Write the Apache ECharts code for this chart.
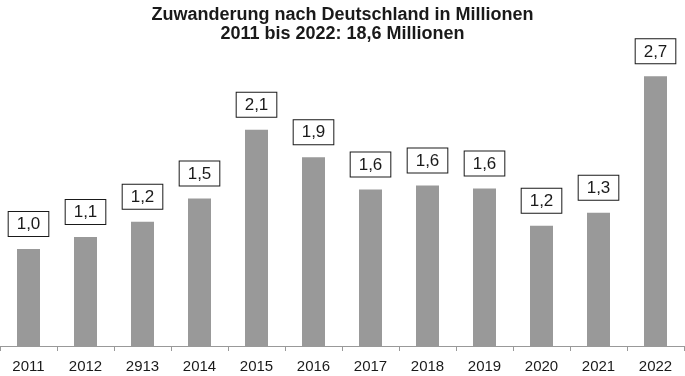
<!DOCTYPE html>
<html lang="de">
<head>
  <meta charset="UTF-8">
  <title>Zuwanderung nach Deutschland</title>
  <script src="https://cdn.jsdelivr.net/npm/echarts@6/dist/echarts.min.js"></script>
</head>
<body style="margin:0">
  <div id="app" style="width: 685px; height: 376px;"></div>
  <script>
    var years = ['2011', '2012', '2913', '2014', '2015', '2016', '2017', '2018', '2019', '2020', '2021', '2022']
    var values = [0.96, 1.08, 1.23, 1.46, 2.14, 1.87, 1.55, 1.59, 1.56, 1.19, 1.32, 2.67]

    var mCharts = echarts.init(document.querySelector('#app'))
    var option = {
      animation: false,
      title: {
        text: 'Zuwanderung nach Deutschland in Millionen\n2011 bis 2022: 18,6 Millionen',
        left: 'center',
        top: 1,
        textStyle: {
          fontFamily: 'Liberation Sans',
          fontSize: 18,
          fontWeight: 'bold',
          color: '#1a1a1a',
          lineHeight: 19
        }
      },
      grid: { left: 0, right: 1, top: 43, bottom: 30 },
      xAxis: {
        type: 'category',
        data: years,
        axisLine: { lineStyle: { color: '#999', width: 1 } },
        axisTick: { show: true, length: 5, lineStyle: { color: '#999' } },
        axisLabel: {
          fontFamily: 'Liberation Sans',
          fontSize: 15,
          color: '#1a1a1a',
          margin: 13
        }
      },
      yAxis: {
        type: 'value',
        min: 0,
        max: 3,
        show: false,
        splitLine: { show: false }
      },
      series: [{
        type: 'bar',
        data: values,
        barWidth: 23,
        itemStyle: { color: '#999999' },
        label: {
          show: true,
          position: 'top',
          distance: 13,
          formatter: function (p) {
            return p.value.toFixed(1).replace('.', ',')
          },
          fontFamily: 'Liberation Sans',
          fontSize: 17,
          color: '#1a1a1a',
          borderColor: '#1a1a1a',
          borderWidth: 1,
          backgroundColor: '#fff',
          padding: [4, 8, 3, 8]
        }
      }]
    }
    mCharts.setOption(option)
  </script>
</body>
</html>
